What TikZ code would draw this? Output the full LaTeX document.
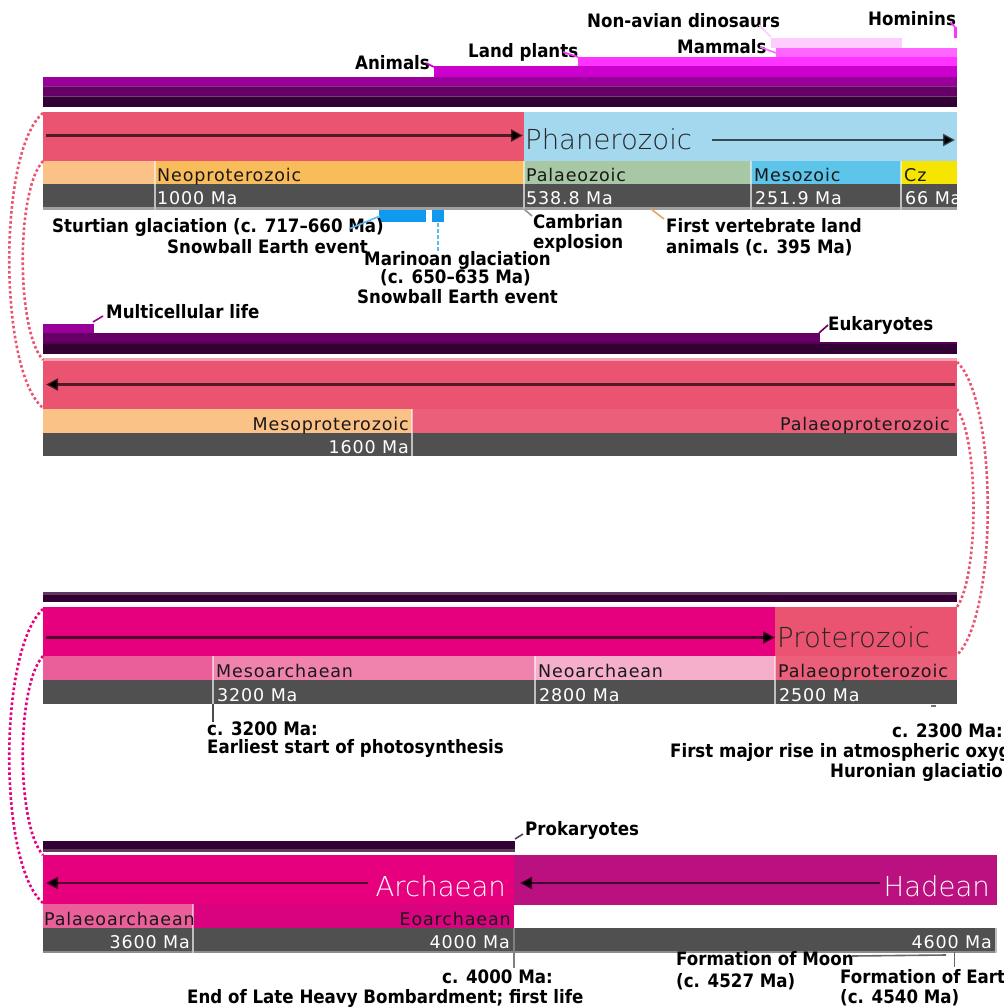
\documentclass[tikz,border=0pt]{standalone}
\usepackage{fontspec}
\setmainfont{DejaVu Sans}
\newfontfamily\annfont[FakeStretch=0.9]{DejaVu Sans}
\newfontfamily\erafont[LetterSpace=5]{DejaVu Sans}
\newfontfamily\eonfont{DejaVu Sans ExtraLight}
\usetikzlibrary{arrows.meta}

% eons
\definecolor{proto}{HTML}{EA5470}
\definecolor{protolight}{HTML}{F2A2B2}
\definecolor{phan}{HTML}{A3D8EF}
\definecolor{arch}{HTML}{E6007E}
\definecolor{hade}{HTML}{BB107F}
% eras
\definecolor{mesoP}{HTML}{FAC287}
\definecolor{neoP}{HTML}{F9BC5B}
\definecolor{paleoP}{HTML}{EC5F7A}
\definecolor{paleoz}{HTML}{A8C8A5}
\definecolor{mesoz}{HTML}{5DC4EA}
\definecolor{cenoz}{HTML}{F5E500}
\definecolor{paleoA}{HTML}{EA5F9A}
\definecolor{mesoA}{HTML}{F083AD}
\definecolor{neoA}{HTML}{F5AFCA}
\definecolor{eoA}{HTML}{DA037F}
% scale rows
\definecolor{daterow}{HTML}{505050}
\definecolor{datebase}{HTML}{A0A0A0}
% life ranges
\definecolor{lifeA}{HTML}{330033}
\definecolor{lifeB}{HTML}{660066}
\definecolor{lifeC}{HTML}{990099}
\definecolor{lifeD}{HTML}{CC00CC}
\definecolor{lifeE}{HTML}{FF33FF}
\definecolor{lifeF}{HTML}{FF66FF}
\definecolor{lifeG}{HTML}{FFCCFF}
\definecolor{stripesep}{HTML}{7A3A7A}
\definecolor{sepmid}{HTML}{5E3A5E}
\definecolor{glacial}{HTML}{0F9AEF}
\definecolor{glaciallight}{HTML}{5DB8F2}

\begin{document}
\begin{tikzpicture}[x=1pt,y=-1pt,
  ann/.style={font=\annfont\bfseries\fontsize{18.5}{20}\selectfont, inner sep=0pt, anchor=base west, text=black},
  era/.style={font=\erafont\fontsize{17.5}{20}\selectfont, inner sep=0pt, anchor=base west, text=black!90},
  datelbl/.style={era, text=white},
  eon/.style={font=\eonfont\fontsize{27.5}{30}\selectfont, inner sep=0pt, anchor=base west},
  tlarrow/.style={draw=black, draw opacity=.66, line width=2.6pt, -{Triangle[length=12pt,width=12pt]}},
  dots/.style={line width=2.6pt, dash pattern=on 2.6pt off 2.4pt},
  divider/.style={draw=white, draw opacity=.55, line width=1.3pt},
  datediv/.style={draw=black!25, line width=1.3pt},
  leader/.style={line width=1.6pt},
]
\useasboundingbox (0,0) rectangle (1004,1007);

%================ Phanerozoic row ================
% life ranges
\fill[lifeG] (771,38) rectangle (902,47.5);
\fill[lifeF] (776,47.5) rectangle (957,57);
\fill[lifeE] (578,57) rectangle (957,66);
\fill[lifeE] (954,27) rectangle (957,38);
\fill[lifeD] (434,66) rectangle (957,76.5);
\fill[stripesep] (43,76.5) rectangle (957,107);
\fill[lifeC] (43,77) rectangle (957,86);
\fill[lifeB] (43,87) rectangle (957,96);
\fill[lifeA] (43,97) rectangle (957,107);

\node[ann] (homin) at (868,25) {Hominins};
\node[ann] (dino) at (587,27) {Non-avian dinosaurs};
\node[ann] (mamm) at (677,53) {Mammals};
\node[ann] (plants) at (468,57) {Land plants};
\node[ann] (anim) at (355,69) {Animals};
\coordinate (hominA) at (950,22); \coordinate (hominB) at (955,27);
\coordinate (dinoA) at (759,25); \coordinate (dinoB) at (771,37);
\coordinate (mammA) at (760,47); \coordinate (mammB) at (776,53);
\coordinate (plantsA) at (563,52); \coordinate (plantsB) at (578,57);
\coordinate (animA) at (426,63); \coordinate (animB) at (434,67);
\draw[leader, lifeE] (hominA) -- (hominB);
\draw[leader, lifeG] (dinoA) -- (dinoB);
\draw[leader, lifeF] (mammA) -- (mammB);
\draw[leader, lifeE] (plantsA) -- (plantsB);
\draw[leader, lifeD] (animA) -- (animB);

% eon bar
\fill[proto] (43,112) rectangle (524,160.5);
\fill[phan] (524,112) rectangle (957,160.5);
\coordinate (arr1s) at (46,135.5); \coordinate (arr1e) at (523,135.5);
\draw[tlarrow] (arr1s) -- (arr1e);
\coordinate (arr2s) at (712,140); \coordinate (arr2e) at (955,140);
\draw[tlarrow] (arr2s) -- (arr2e);
\node[eon, text=black!85] (phanero) at (525,149) {Phanerozoic};

% era row
\fill[mesoP] (43,160.5) rectangle (155,184);
\fill[neoP] (155,160.5) rectangle (524,184);
\fill[paleoz] (524,160.5) rectangle (751,184);
\fill[mesoz] (751,160.5) rectangle (901,184);
\fill[cenoz] (901,160.5) rectangle (957,184);
% date row
\fill[daterow] (43,184) rectangle (957,207);
\fill[datebase] (43,207) rectangle (957,209.5);
\foreach \xx in {155,524,751,901} {
  \draw[divider] (\xx,160.5) -- (\xx,184);
  \draw[datediv] (\xx,184) -- (\xx,209.5);
}
\node[era] (neoprotA) at (157,181) {Neoproterozoic};
\node[era] (palaeoz) at (526,181) {Palaeozoic};
\node[era] (mesozo) at (754,181) {Mesozoic};
\node[era] (cenozo) at (904,181) {Cz};
\node[datelbl] (d1000) at (157,204) {1000 Ma};
\node[datelbl] (d538) at (526,204) {538.8 Ma};
\node[datelbl] (d251) at (755,204) {251.9 Ma};
\node[datelbl] (d66) at (905,204) {66 Ma};

% events
\fill[glacial] (379,210) rectangle (426,222);
\fill[glacial] (432,210) rectangle (444,222);
\node[ann] (sturt) at (52,232) {Sturtian glaciation (c. 717–660 Ma)};
\node[ann] (sturtb) at (167,253) {Snowball Earth event};
\node[ann] (marin) at (364,265) {Marinoan glaciation};
\node[ann] (marinb) at (380,283) {(c. 650–635 Ma)};
\node[ann] (marinc) at (357,303) {Snowball Earth event};
\coordinate (sturtA) at (349,229); \coordinate (sturtB) at (380,216);
\draw[leader, glaciallight] (sturtA) -- (sturtB);
\coordinate (marinA) at (438,223); \coordinate (marinB) at (438,253);
\draw[leader, glaciallight, dash pattern=on 4pt off 2pt] (marinA) -- (marinB);

\node[ann] (cambr) at (533,228) {Cambrian};
\node[ann] (cambrb) at (533,248) {explosion};
\coordinate (cambrA) at (524,209); \coordinate (cambrB) at (532,216);
\draw[leader, paleoz!80!black] (cambrA) -- (cambrB);
\node[ann] (verteb) at (666,232) {First vertebrate land};
\node[ann] (vertebb) at (666,253) {animals (c. 395 Ma)};
\coordinate (vertA) at (651,209); \coordinate (vertB) at (664,219);
\draw[leader, brown!60!orange!70] (vertA) -- (vertB);

%================ Proterozoic row ================
\fill[lifeC] (43,324) rectangle (94,333);
\fill[lifeB] (43,333) rectangle (820,342);
\fill[lifeB!70!lifeA] (43,342) rectangle (957,344);
\fill[lifeA] (43,344) rectangle (957,354);
\node[ann] (multi) at (106,318) {Multicellular life};
\node[ann] (eukar) at (828,330) {Eukaryotes};
\coordinate (multiA) at (93,322); \coordinate (multiB) at (103,316);
\draw[leader, lifeC] (multiA) -- (multiB);
\coordinate (eukA) at (819,333); \coordinate (eukB) at (828,325);
\draw[leader, lifeB] (eukA) -- (eukB);

\fill[protolight] (43,358) rectangle (957,361);
\fill[proto] (43,361) rectangle (957,409);
\coordinate (arr3s) at (955,384.5); \coordinate (arr3e) at (46,384.5);
\draw[tlarrow] (arr3s) -- (arr3e);

\fill[mesoP] (43,409) rectangle (412,433);
\fill[paleoP] (412,409) rectangle (957,433);
\fill[daterow] (43,433) rectangle (957,456);
\draw[divider] (412,409) -- (412,433);
\draw[datediv] (412,433) -- (412,456);
\node[era, anchor=base east] (mesoprot) at (409,430) {Mesoproterozoic};
\node[era, anchor=base east] (palprotA) at (950,430) {Palaeoproterozoic};
\node[datelbl, anchor=base east] (d1600) at (409,453) {1600 Ma};

%================ Archaean / Proterozoic row ================
\fill[sepmid] (43,592) rectangle (957,594.5);
\fill[lifeA] (43,594.5) rectangle (957,602);

\fill[arch] (43,607) rectangle (775,656);
\fill[proto] (775,607) rectangle (957,656);
\coordinate (arr4s) at (46,637.5); \coordinate (arr4e) at (775,637.5);
\draw[tlarrow] (arr4s) -- (arr4e);
\node[eon, text=black!85] (proter) at (777,647) {Proterozoic};

\fill[paleoA] (43,656) rectangle (213,680);
\fill[mesoA] (213,656) rectangle (535,680);
\fill[neoA] (535,656) rectangle (775,680);
\fill[paleoP] (775,656) rectangle (957,680);
\fill[daterow] (43,680) rectangle (957,704);
\foreach \xx in {213,535,775} {
  \draw[divider] (\xx,656) -- (\xx,680);
  \draw[datediv] (\xx,680) -- (\xx,704);
}
\node[era] (mesoarch) at (216,677) {Mesoarchaean};
\node[era] (neoarch) at (538,677) {Neoarchaean};
\node[era] (palprotB) at (778,677) {Palaeoproterozoic};
\node[datelbl] (d3200) at (217,701) {3200 Ma};
\node[datelbl] (d2800) at (539,701) {2800 Ma};
\node[datelbl] (d2500) at (779,701) {2500 Ma};

\coordinate (photoA) at (213,704); \coordinate (photoB) at (213,722);
\draw[line width=1.5pt, black!70] (photoA) -- (photoB);
\node[ann] (photo) at (207,735) {c. 3200 Ma:};
\node[ann] (photob) at (207,753) {Earliest start of photosynthesis};
\coordinate (oxyA) at (931,706); \coordinate (oxyB) at (936,706);
\draw[line width=2.5pt, black!55] (oxyA) -- (oxyB);
\node[ann] (oxy) at (892,737) {c. 2300 Ma:};
\node[ann] (oxyb) at (670,757) {First major rise in atmospheric oxygen};
\node[ann] (oxyc) at (830,777) {Huronian glaciation};

%================ Archaean / Hadean row ================
\fill[lifeA] (43,841) rectangle (515,849);
\fill[sepmid] (43,849) rectangle (515,852);
\node[ann] (proka) at (525,835) {Prokaryotes};
\coordinate (prokA) at (515,839); \coordinate (prokB) at (523,834);
\draw[leader, sepmid] (prokA) -- (prokB);

\fill[arch] (43,855) rectangle (514,904);
\fill[hade] (514,855) rectangle (997,905);
\coordinate (arr5s) at (368,883); \coordinate (arr5e) at (46,883);
\draw[tlarrow] (arr5s) -- (arr5e);
\coordinate (arr6s) at (880,883); \coordinate (arr6e) at (520,883);
\draw[tlarrow] (arr6s) -- (arr6e);
\node[eon, text=white, anchor=base east] (archae) at (506,896) {Archaean};
\node[eon, text=white, anchor=base east] (hadean) at (990,896) {Hadean};

\fill[paleoA] (43,904) rectangle (193,928);
\fill[eoA] (193,904) rectangle (514,928);
\fill[daterow] (43,928) rectangle (997,951);
\fill[black!45] (43,951) rectangle (997,953);
\draw[divider] (193,904) -- (193,928);
\draw[datediv] (193,928) -- (193,953);
\draw[datediv] (996,928) -- (996,953);
\node[era] (palarch) at (44,925) {Palaeoarchaean};
\node[era, anchor=base east] (eoarch) at (511,925) {Eoarchaean};
\node[datelbl, anchor=base east] (d3600) at (190,948) {3600 Ma};
\node[datelbl, anchor=base east] (d4000) at (510,948) {4000 Ma};
\node[datelbl, anchor=base east] (d4600) at (992,948) {4600 Ma};

\coordinate (lhbA) at (513.5,928); \coordinate (lhbB) at (513.5,968);
\draw[line width=2pt, black!50] (lhbA) -- (lhbB);
\node[ann] (lhb) at (442,983) {c. 4000 Ma:};
\node[ann] (lhbb) at (187,1003) {End of Late Heavy Bombardment; first life};

\node[ann] (moon) at (676,965) {Formation of Moon};
\node[ann] (moonb) at (676,987) {(c. 4527 Ma)};
\coordinate (moonA) at (852,956); \coordinate (moonB) at (946,955);
\draw[line width=1.6pt, black!60] (moonA) -- (moonB);
\node[ann] (earth) at (840,983) {Formation of Earth};
\node[ann] (earthb) at (840,1003) {(c. 4540 Ma)};
\coordinate (earthA) at (954.5,952); \coordinate (earthB) at (954.5,967);
\draw[line width=1.3pt, black!60] (earthA) -- (earthB);

%================ continuation loops ================
\draw[dots, proto] (43,113) .. controls (-2,150) and (-2,370) .. (43,408);
\draw[dots, proto] (43,161) .. controls (16,190) and (16,330) .. (43,360);
\draw[dots, proto] (957,362) .. controls (998,400) and (998,615) .. (957,655);
\draw[dots, proto] (957,409) .. controls (979,440) and (979,575) .. (957,607);
\draw[dots, arch] (43,609) .. controls (-2,650) and (-2,865) .. (43,903);
\draw[dots, arch] (43,656) .. controls (16,685) and (16,825) .. (43,855);
\end{tikzpicture}
\end{document}
